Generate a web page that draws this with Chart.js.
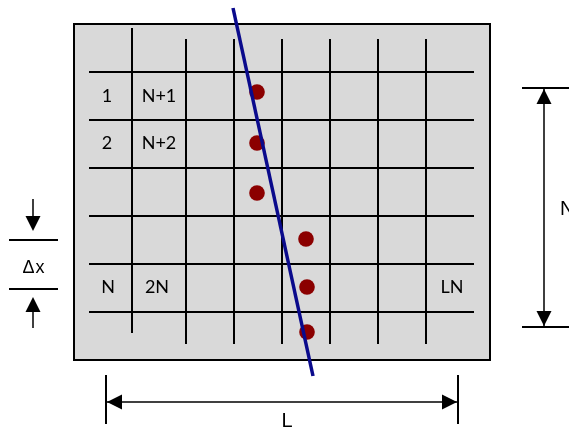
<!DOCTYPE html>
<html><head><meta charset="utf-8">
<script src="https://cdn.jsdelivr.net/npm/chart.js@4.4.1/dist/chart.umd.min.js"></script>
<style>html,body{margin:0;padding:0;background:#fff;overflow:hidden}#wrap{width:569px;height:430px;position:relative}</style>
</head><body><div id="wrap"><canvas id="c"></canvas></div>
<script>
// Diagram coordinates (in its own units)
const panelBox = [74, 24, 490, 360];            // left, top, right, bottom
const gridColsX = [132, 186, 234, 282, 330, 378, 426];
const gridColsTop = [28, 39, 39, 39, 39, 39, 39];
const gridColsBottom = [333, 344, 344, 344, 344, 344, 344];
const gridRowsY = [72, 120, 168, 216, 264, 312];
const gridRowsStart = 89;
const gridRowsEnd = 474;
const dotsX = [257, 257, 257, 306, 307, 307];
const dotsY = [92, 143, 193, 239, 287, 332];
const crossLineX = [233, 313];
const crossLineY = [8, 376];
const cellLabels = ['1', 'N+1', '2', 'N+2', 'N', '2N', 'LN'];
const cellLabelsX = [107, 159, 107, 159, 108, 157, 452];
const cellLabelsY = [96, 96, 143, 143, 287, 287, 287];
// dimension markers
const dimRightX = 544, dimRightY = [88, 327], dimRightTick = [522, 569];
const dimBottomY = 402, dimBottomX = [106, 458], dimBottomTick = [375, 424];
const dimLeftX = 33, dimLeftY = [240, 289], dimLeftTick = [9, 58];
const dimLeftArrowTop = [199, 240], dimLeftArrowBottom = [289, 328];
const dimLabels = ['N', 'L', '\u0394x'];
const dimLabelsX = [560, 287, 34];
const dimLabelsY = [209, 421, 268];

const seg = (x1, y1, x2, y2, color, width, order) => ({
  type: 'line', data: [{x: x1, y: y1}, {x: x2, y: y2}], borderColor: color,
  borderWidth: width, pointRadius: 0, fill: false, tension: 0, order: order,
  borderCapStyle: 'butt'
});

const datasets = [];
gridColsX.forEach((x, i) => datasets.push(seg(x, gridColsTop[i], x, gridColsBottom[i], '#000', 2, 5)));
gridRowsY.forEach(y => datasets.push(seg(gridRowsStart, y, gridRowsEnd, y, '#000', 2, 5)));
datasets.push({type: 'scatter', data: dotsX.map((x, i) => ({x, y: dotsY[i]})), pointRadius: 7.8,
  pointBackgroundColor: '#8b0000', pointBorderWidth: 0, borderColor: '#8b0000', order: 3});
datasets.push(seg(crossLineX[0], crossLineY[0], crossLineX[1], crossLineY[1], '#0a0a8c', 3.5, 1));
// right dimension
datasets.push(seg(dimRightX, dimRightY[0], dimRightX, dimRightY[1], '#000', 1.5, 6));
dimRightY.forEach(y => datasets.push(seg(dimRightTick[0], y, dimRightTick[1], y, '#000', 2, 6)));
// bottom dimension
datasets.push(seg(dimBottomX[0], dimBottomY, dimBottomX[1], dimBottomY, '#000', 1.5, 6));
dimBottomX.forEach(x => datasets.push(seg(x, dimBottomTick[0], x, dimBottomTick[1], '#000', 2, 6)));
// left dimension
dimLeftY.forEach(y => datasets.push(seg(dimLeftTick[0], y, dimLeftTick[1], y, '#000', 2, 6)));
datasets.push(seg(dimLeftX, dimLeftArrowTop[0], dimLeftX, dimLeftArrowTop[1] - 12, '#000', 1.5, 6));
datasets.push(seg(dimLeftX, dimLeftArrowBottom[0] + 12, dimLeftX, dimLeftArrowBottom[1], '#000', 1.5, 6));

const diagram = {
  id: 'diagram',
  beforeDatasetsDraw(chart) {
    const {ctx, scales: {x, y}} = chart;
    const l = x.getPixelForValue(panelBox[0]), t = y.getPixelForValue(panelBox[1]);
    const r = x.getPixelForValue(panelBox[2]), b = y.getPixelForValue(panelBox[3]);
    ctx.save();
    ctx.fillStyle = '#d9d9d9';
    ctx.fillRect(l, t, r - l, b - t);
    ctx.strokeStyle = '#000'; ctx.lineWidth = 2;
    ctx.strokeRect(l, t, r - l, b - t);
    ctx.restore();
  },
  afterDatasetsDraw(chart) {
    const {ctx, scales: {x, y}} = chart;
    const px = v => x.getPixelForValue(v), py = v => y.getPixelForValue(v);
    ctx.save();
    ctx.fillStyle = '#000';
    // arrowhead: tip (tx,ty), direction (dx,dy)
    const head = (tx, ty, dx, dy) => {
      const len = 15, half = 7.5;
      const X = px(tx), Y = py(ty);
      const bx = X - dx * len, by = Y - dy * len;
      ctx.beginPath();
      ctx.moveTo(X, Y);
      ctx.lineTo(bx - dy * half, by + dx * half);
      ctx.lineTo(bx + dy * half, by - dx * half);
      ctx.closePath(); ctx.fill();
    };
    head(dimRightX, dimRightY[0] + 1, 0, -1);
    head(dimRightX, dimRightY[1] - 1, 0, 1);
    head(dimBottomX[0] + 1, dimBottomY, -1, 0);
    head(dimBottomX[1] - 1, dimBottomY, 1, 0);
    head(dimLeftX, dimLeftArrowTop[1] - 9, 0, 1);
    head(dimLeftX, dimLeftArrowBottom[0] + 8, 0, -1);
    // cell labels
    ctx.font = '18px Lato, "Open Sans", sans-serif';
    ctx.textAlign = 'center'; ctx.textBaseline = 'middle';
    cellLabels.forEach((s, i) => ctx.fillText(s, px(cellLabelsX[i]), py(cellLabelsY[i])));
    // dimension labels
    ctx.font = '20px "Liberation Sans", Arial, sans-serif';
    ctx.textAlign = 'left';
    ctx.fillText(dimLabels[0], px(dimLabelsX[0]), py(dimLabelsY[0]));
    ctx.textAlign = 'center';
    ctx.fillText(dimLabels[1], px(dimLabelsX[1]), py(dimLabelsY[1]));
    ctx.font = '18px "Liberation Sans", Arial, sans-serif';
    if ('letterSpacing' in ctx) ctx.letterSpacing = '1px';
    ctx.fillText(dimLabels[2], px(dimLabelsX[2]), py(dimLabelsY[2]));
    ctx.restore();
  }
};

new Chart(document.getElementById('c'), {
  type: 'scatter',
  data: {datasets},
  options: {
    responsive: true, maintainAspectRatio: false, animation: false,
    layout: {padding: 0, autoPadding: false},
    plugins: {legend: {display: false}, tooltip: {enabled: false}},
    events: [],
    scales: {
      x: {type: 'linear', min: 0, max: 569, display: false},
      y: {type: 'linear', min: 0, max: 430, reverse: true, display: false}
    }
  },
  plugins: [diagram]
});
</script></body></html>
